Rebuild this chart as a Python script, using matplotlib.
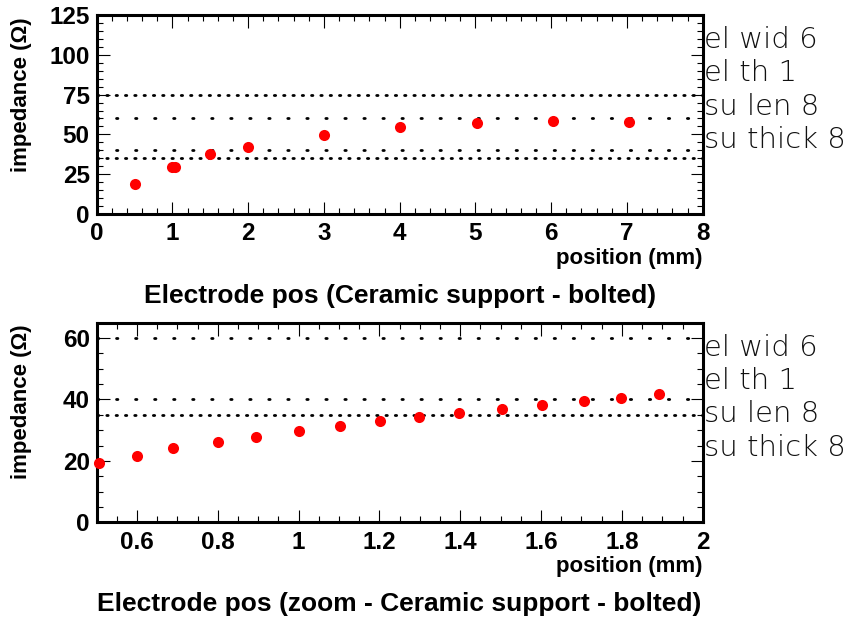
import numpy as np
import matplotlib
matplotlib.use("Agg")
import matplotlib.pyplot as plt
from matplotlib.ticker import MultipleLocator, FormatStrFormatter

# data
pos_full = [0.5, 1.0, 1.03, 1.5, 2.0, 3.0, 4.0, 5.02, 6.03, 7.03]
imp_full = [19.0, 29.5, 29.8, 37.5, 42.3, 49.8, 54.6, 57.3, 58.7, 57.8]

pos_zoom = [0.505, 0.601, 0.69, 0.80, 0.895, 1.0, 1.102, 1.202, 1.298,
            1.397, 1.502, 1.602, 1.705, 1.797, 1.892]
imp_zoom = [19.4, 21.5, 24.1, 26.1, 27.8, 29.8, 31.2, 32.9, 34.4,
            35.7, 37.0, 38.3, 39.4, 40.5, 41.9]

# reference levels (dense dotted / sparse dotted)
dense_levels_full = [75, 35]
sparse_levels_full = [60, 40]
dense_levels_zoom = [35]
sparse_levels_zoom = [60, 40]

params = ["el wid 6", "el th 1", "su len 8", "su thick 8"]

titles = ["Electrode pos (Ceramic support - bolted)",
          "Electrode pos (zoom - Ceramic support - bolted)"]

plt.rcParams['font.family'] = ['Liberation Sans', 'DejaVu Sans']

fig = plt.figure(figsize=(8.6, 6.21), dpi=100)

left, width = 0.1124, 0.7047
ax1 = fig.add_axes([left, 0.6554, width, 0.3204])
ax2 = fig.add_axes([left, 0.1589, width, 0.3215])


def style_axes(ax, xmaj, xmin, ymaj, ymin):
    for sp in ax.spines.values():
        sp.set_linewidth(2.2)
    ax.xaxis.set_major_locator(MultipleLocator(xmaj))
    ax.xaxis.set_minor_locator(MultipleLocator(xmin))
    ax.yaxis.set_major_locator(MultipleLocator(ymaj))
    ax.yaxis.set_minor_locator(MultipleLocator(ymin))
    ax.xaxis.set_major_formatter(FormatStrFormatter('%g'))
    ax.yaxis.set_major_formatter(FormatStrFormatter('%g'))
    ax.tick_params(which='both', direction='in', top=True, right=True, width=0.8)
    ax.tick_params(which='major', length=9, labelsize=17.5)
    ax.tick_params(axis='x', which='major', pad=6)
    ax.tick_params(axis='y', which='major', pad=5)
    ax.tick_params(which='minor', length=4.5)
    for lab in ax.get_xticklabels() + ax.get_yticklabels():
        lab.set_fontweight('bold')


def draw_panel(ax, x, y, dense, sparse, xlim, ylim):
    for lvl in dense:
        ax.axhline(lvl, color='black', lw=2.0, linestyle=(0, (0.5, 2.85)),
                   dash_capstyle='round', zorder=1)
    for lvl in sparse:
        ax.axhline(lvl, color='black', lw=2.0, linestyle=(0, (0.5, 6.35)),
                   dash_capstyle='round', zorder=1)
    ax.plot(x, y, 'o', color='red', markersize=8, markeredgewidth=0, zorder=3,
            clip_on=False)
    ax.set_xlim(*xlim)
    ax.set_ylim(*ylim)


draw_panel(ax1, pos_full, imp_full, dense_levels_full, sparse_levels_full, (0, 8), (0, 125))
draw_panel(ax2, pos_zoom, imp_zoom, dense_levels_zoom, sparse_levels_zoom, (0.5, 2), (0, 65))

style_axes(ax1, 1, 0.2, 25, 5)
style_axes(ax2, 0.2, 0.05, 20, 5)

for ax, title in zip([ax1, ax2], titles):
    ax.set_ylabel("impedance (Ω)", fontsize=16, fontweight='bold', loc='top')
    ax.yaxis.set_label_coords(-0.107, 0.99)
    ax.set_xlabel("position (mm)", fontsize=16, fontweight='bold', loc='right', labelpad=2)
    ax.text(0.5, -0.41, title, transform=ax.transAxes, ha='center', va='center',
            fontsize=19, fontweight='bold')
    for i, p in enumerate(params):
        ax.text(1.002, 0.834 - i * 0.167, p, transform=ax.transAxes, ha='left',
                va='baseline', fontsize=21, family=['DejaVu Sans'],
                fontweight='light', color='#111111')

fig.savefig("out.png", dpi=100)
